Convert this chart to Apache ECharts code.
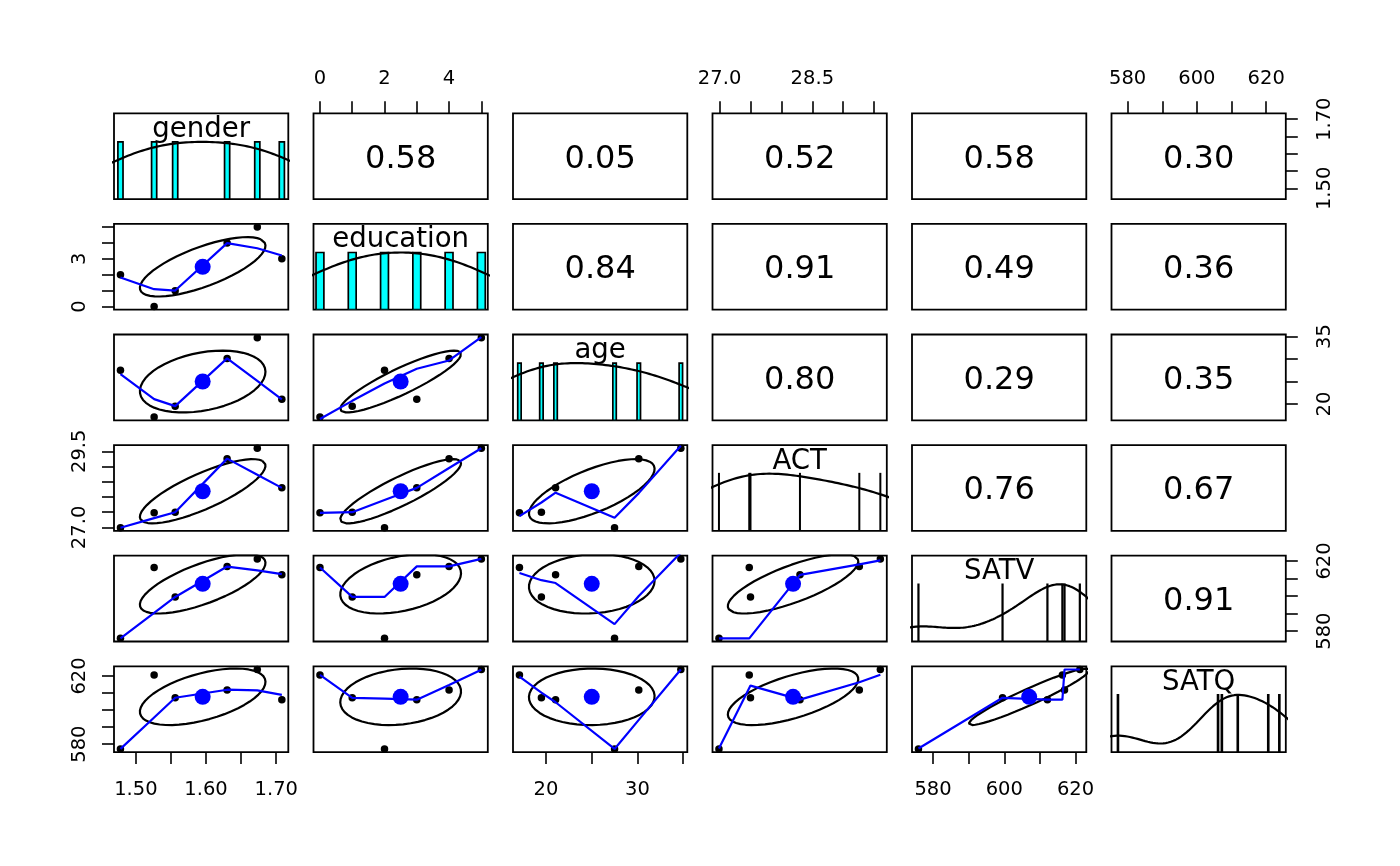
<!DOCTYPE html>
<html><head><meta charset="utf-8">
<script src="https://cdn.jsdelivr.net/npm/echarts@6/dist/echarts.min.js"></script>
<style>html,body{margin:0;padding:0;background:#fff}#chart{width:1400px;height:866px}</style>
</head><body><div id="chart"></div>
<script>
// ---- data (group means by education level 0..5) ----
const varNames = ['gender', 'education', 'age', 'ACT', 'SATV', 'SATQ'];
const gender    = [1.526, 1.556, 1.478, 1.708, 1.630, 1.673];
const education = [0, 1, 2, 3, 4, 5];
const age       = [17.1, 19.5, 27.5, 21.05, 30.15, 34.75];
const ACT       = [27.48, 27.50, 26.99, 28.30, 29.26, 29.60];
const SATV      = [616.3, 599.5, 575.9, 612.1, 616.9, 621.2];
const SATQ      = [620.6, 607.2, 577.2, 606.1, 611.8, 623.8];
// correlations shown in the upper panels (row by row)
const corrUpper = [0.58, 0.05, 0.52, 0.58, 0.30, 0.84, 0.91, 0.49, 0.36, 0.80, 0.29, 0.35, 0.76, 0.67, 0.91];
// tick values and tick labels
const ticksGender = [1.50, 1.55, 1.60, 1.65, 1.70];
const labelsGenderBottom = [1.50, 1.60, 1.70];
const labelsGenderRight = [1.50, 1.70];
const ticksEducation = [0, 1, 2, 3, 4, 5];
const labelsEducationTop = [0, 2, 4];
const labelsEducationLeft = [0, 3];
const ticksAge = [20, 25, 30, 35];
const labelsAgeBottom = [20, 30];
const labelsAgeRight = [20, 35];
const ticksACT = [27.0, 27.5, 28.0, 28.5, 29.0, 29.5];
const labelsACTTop = [27.0, 28.5];
const labelsACTLeft = [27.0, 29.5];
const ticksSATV = [580, 590, 600, 610, 620];
const labelsSATVBottom = [580, 600, 620];
const labelsSATVRight = [580, 620];
const ticksSATQ = [580, 590, 600, 610, 620];
const labelsSATQTop = [580, 600, 620];
const labelsSATQLeft = [580, 620];

const vars = [gender, education, age, ACT, SATV, SATQ];
const decimals = [2, 0, 0, 1, 0, 0];
const ticks = [ticksGender, ticksEducation, ticksAge, ticksACT, ticksSATV, ticksSATQ];
const xOuterLabels = [labelsGenderBottom, labelsEducationTop, labelsAgeBottom, labelsACTTop, labelsSATVBottom, labelsSATQTop];
const yOuterLabels = [labelsGenderRight, labelsEducationLeft, labelsAgeRight, labelsACTLeft, labelsSATVRight, labelsSATQLeft];

// ---- layout ----
const L0 = 114, CS = 199.5, PW = 174.3, T0 = 113.3, RS = 110.6, PH = 85.8;
const FONT = 'DejaVu Sans';

// ---- helpers ----
function ext(v) { const mn = Math.min(...v), mx = Math.max(...v), r = mx - mn; return [mn - 0.04 * r, mx + 0.04 * r]; }
function mean(v) { return v.reduce((a, b) => a + b, 0) / v.length; }
function sd(v) { const m = mean(v); return Math.sqrt(v.reduce((a, b) => a + (b - m) * (b - m), 0) / (v.length - 1)); }
function cor(x, y) { const mx = mean(x), my = mean(y); let sxy = 0, sxx = 0, syy = 0;
  for (let i = 0; i < x.length; i++) { sxy += (x[i] - mx) * (y[i] - my); sxx += (x[i] - mx) ** 2; syy += (y[i] - my) ** 2; }
  return sxy / Math.sqrt(sxx * syy); }
function q7(s, p) { const h = (s.length - 1) * p, lo = Math.floor(h), hi = Math.min(lo + 1, s.length - 1); return s[lo] + (h - lo) * (s[hi] - s[lo]); }
function densityCurve(v) {
  const n = v.length, s = [...v].sort((a, b) => a - b);
  const iqr = q7(s, 0.75) - q7(s, 0.25);
  const bw = 1.06 * Math.min(sd(v), iqr / 1.34) * Math.pow(n, -0.2) * 1.2;
  const from = s[0] - 3 * bw, to = s[n - 1] + 3 * bw, N = 512;
  const pts = [];
  for (let k = 0; k < N; k++) {
    const xx = from + (to - from) * k / (N - 1);
    let d = 0; for (const xi of v) { const z = (xx - xi) / bw; d += Math.exp(-0.5 * z * z); }
    pts.push([xx, d]);
  }
  const mx = Math.max(...pts.map(p => p[1]));
  return pts.map(p => [p[0], p[1] / mx]);
}
function lowess(xIn, yIn, f = 2 / 3, nsteps = 3) {
  const n = xIn.length;
  const idx = xIn.map((v, i) => i).sort((a, b) => xIn[a] - xIn[b]);
  const x = idx.map(i => xIn[i]), y = idx.map(i => yIn[i]);
  const delta = 0.01 * (x[n - 1] - x[0]);
  const ys = new Array(n).fill(0), rw = new Array(n).fill(1), res = new Array(n).fill(0);
  const ns = Math.max(2, Math.min(n, Math.floor(f * n + 1e-7)));
  const range = x[n - 1] - x[0];
  function lowest(xs, nleft, nright, userw) {
    const h = Math.max(xs - x[nleft], x[nright] - xs), h9 = 0.999 * h, h1 = 0.001 * h;
    const w = new Array(n).fill(0);
    let a = 0, j = nleft;
    while (j < n) {
      w[j] = 0;
      const r = Math.abs(x[j] - xs);
      if (r <= h9) {
        if (r <= h1) w[j] = 1; else { const q = r / h; const t = 1 - q * q * q; w[j] = t * t * t; }
        if (userw) w[j] *= rw[j];
        a += w[j];
      } else if (x[j] > xs) break;
      j++;
    }
    const nrt = j - 1;
    if (a <= 0) return null;
    for (let k = nleft; k <= nrt; k++) w[k] /= a;
    if (h > 0) {
      let aa = 0; for (let k = nleft; k <= nrt; k++) aa += w[k] * x[k];
      let b = xs - aa, c = 0;
      for (let k = nleft; k <= nrt; k++) c += w[k] * (x[k] - aa) * (x[k] - aa);
      if (Math.sqrt(c) > 0.001 * range) { b /= c; for (let k = nleft; k <= nrt; k++) w[k] *= (b * (x[k] - aa) + 1); }
    }
    let yv = 0; for (let k = nleft; k <= nrt; k++) yv += w[k] * y[k];
    return yv;
  }
  let iter = 1;
  while (iter <= nsteps + 1) {
    let nleft = 0, nright = ns - 1, last = -1, i = 0;
    for (;;) {
      if (nright < n - 1) {
        const d1 = x[i] - x[nleft], d2 = x[nright + 1] - x[i];
        if (d1 > d2) { nleft++; nright++; continue; }
      }
      const v = lowest(x[i], nleft, nright, iter > 1);
      ys[i] = (v === null) ? y[i] : v;
      if (last < i - 1) {
        const denom = x[i] - x[last];
        for (let j = last + 1; j < i; j++) { const al = (x[j] - x[last]) / denom; ys[j] = al * ys[i] + (1 - al) * ys[last]; }
      }
      last = i;
      const cut = x[last] + delta;
      for (i = last + 1; i < n; i++) {
        if (x[i] > cut) break;
        if (x[i] === x[last]) { ys[i] = ys[last]; last = i; }
      }
      i = Math.max(last + 1, i - 1);
      if (last >= n - 1) break;
    }
    for (let k = 0; k < n; k++) res[k] = y[k] - ys[k];
    let sc = 0; for (let k = 0; k < n; k++) sc += Math.abs(res[k]); sc /= n;
    if (iter > nsteps) break;
    const ar = res.map(Math.abs).sort((a, b) => a - b);
    const m1 = Math.floor(n / 2);
    let cmad;
    if (n % 2 === 0) { const m2 = n - m1 - 1; cmad = 3 * (ar[m1] + ar[m2]); } else cmad = 6 * ar[m1];
    if (cmad < 1e-7 * sc) break;
    const c9 = 0.999 * cmad, c1 = 0.001 * cmad;
    for (let k = 0; k < n; k++) {
      const r = Math.abs(res[k]);
      rw[k] = r <= c1 ? 1 : (r <= c9 ? Math.pow(1 - (r / cmad) ** 2, 2) : 0);
    }
    iter++;
  }
  return x.map((v, k) => [v, ys[k]]);
}
function ellipse(x, y) {
  const xm = mean(x), ym = mean(y), xs = sd(x), ysd = sd(y), r = cor(x, y);
  const th = (Math.abs(r) > 0 ? Math.sign(r) : 1) / Math.sqrt(2);
  const a = Math.sqrt(1 + r), b = Math.sqrt(1 - r), seg = 51, out = [];
  for (let k = 0; k <= seg; k++) {
    const ang = k * 2 * Math.PI / seg, c = Math.cos(ang), s = Math.sin(ang);
    out.push([(c * a * th - s * b * th) * xs + xm, (c * a * th + s * b * th) * ysd + ym]);
  }
  return out;
}

// ---- build option ----
const grids = [], xAxes = [], yAxes = [], series = [];
let corrIdx = 0;
function axisCfg(isY, k, rng, show, pos, tk, lab, dec, margin) {
  return {
    type: 'value', gridIndex: k, min: rng[0], max: rng[1], position: pos,
    axisLine: { show: false }, splitLine: { show: false },
    axisTick: { show: show, length: 12, inside: false, lineStyle: { color: '#000', width: 1.6 }, customValues: tk },
    axisLabel: { show: show, customValues: lab, formatter: v => Number(v).toFixed(dec), color: '#000',
      fontFamily: FONT, fontSize: 19.5, margin: margin, rotate: isY ? 90 : 0 }
  };
}
const clearItem = { color: 'rgba(0,0,0,0)', borderWidth: 0, opacity: 1 };
for (let i = 0; i < 6; i++) {
  for (let j = 0; j < 6; j++) {
    const k = grids.length;
    grids.push({ left: L0 + j * CS, top: T0 + i * RS, width: PW, height: PH, show: true,
      borderColor: '#000', borderWidth: 1.8, backgroundColor: 'transparent' });
    const xr = ext(vars[j]);
    const yr = (i === j) ? [0, 1.5] : ext(vars[i]);
    const xBottom = (j % 2 === 0);
    const xShow = xBottom ? (i === 5) : (i === 0);
    xAxes.push(axisCfg(false, k, xr, xShow, xBottom ? 'bottom' : 'top', ticks[j], xOuterLabels[j], decimals[j], xBottom ? 28 : 24));
    const yLeft = (i % 2 === 1);
    const yShow = (i !== j) && (yLeft ? (j === 0) : (j === 5));
    yAxes.push(axisCfg(true, k, yr, yShow, yLeft ? 'left' : 'right', i === j ? [] : ticks[i], i === j ? [] : yOuterLabels[i], decimals[i], yLeft ? 24 : 29));

    if (i === j) {
      const v = vars[i];
      const uniq = [...new Set(v)].sort((a, b) => a - b);
      const counts = uniq.map(u => v.filter(z => z === u).length);
      const mc = Math.max(...counts);
      let md = Infinity; for (let q = 1; q < uniq.length; q++) md = Math.min(md, uniq[q] - uniq[q - 1]);
      const ib = md * (uniq.length - 1) / 41;
      series.push({ type: 'custom', xAxisIndex: k, yAxisIndex: k, silent: true, clip: true,
        data: uniq.map((u, q) => [u, counts[q] / mc]),
        renderItem: (params, api) => {
          const xv = api.value(0), hv = api.value(1);
          const p1 = api.coord([xv - ib, hv]), p2 = api.coord([xv + ib, 0]);
          return { type: 'rect', shape: { x: p1[0], y: p1[1], width: p2[0] - p1[0], height: p2[1] - p1[1] },
            style: { fill: '#00FFFF', stroke: '#000', lineWidth: 1.7 } };
        } });
      series.push({ type: 'line', xAxisIndex: k, yAxisIndex: k, silent: true, clip: true, symbol: 'none',
        data: densityCurve(v), lineStyle: { color: '#000', width: 2.2 }, z: 3 });
      series.push({ type: 'scatter', xAxisIndex: k, yAxisIndex: k, silent: true, symbolSize: 0,
        itemStyle: clearItem, data: [[(xr[0] + xr[1]) / 2, 1.25]], z: 5,
        label: { show: true, position: 'inside', offset: [0, 2], formatter: varNames[i], color: '#000', opacity: 1,
          textBorderWidth: 0, fontFamily: FONT, fontSize: 27.6 } });
    } else if (i > j) {
      const xv = vars[j], yv = vars[i];
      series.push({ type: 'scatter', xAxisIndex: k, yAxisIndex: k, silent: true, symbolSize: 7.5,
        itemStyle: { color: '#000', opacity: 1 }, data: xv.map((x, q) => [x, yv[q]]), z: 2 });
      series.push({ type: 'line', xAxisIndex: k, yAxisIndex: k, silent: true, clip: true, symbol: 'none',
        data: ellipse(xv, yv), lineStyle: { color: '#000', width: 2.2 }, z: 3 });
      series.push({ type: 'line', xAxisIndex: k, yAxisIndex: k, silent: true, clip: true, symbol: 'none',
        data: lowess(xv, yv), lineStyle: { color: '#0000FF', width: 2.2 }, z: 4 });
      series.push({ type: 'scatter', xAxisIndex: k, yAxisIndex: k, silent: true, symbolSize: 16,
        itemStyle: { color: '#0000FF', opacity: 1 }, data: [[mean(xv), mean(yv)]], z: 5 });
    } else {
      const r = corrUpper[corrIdx++];
      series.push({ type: 'scatter', xAxisIndex: k, yAxisIndex: k, silent: true, symbolSize: 0,
        itemStyle: clearItem, data: [[(xr[0] + xr[1]) / 2, (yr[0] + yr[1]) / 2]],
        label: { show: true, position: 'inside', offset: [0, 3], formatter: r.toFixed(2), color: '#000', opacity: 1,
          textBorderWidth: 0, fontFamily: FONT, fontSize: 32 } });
    }
  }
}
const chart = echarts.init(document.getElementById('chart'), null, { renderer: 'canvas' });
chart.setOption({ animation: false, backgroundColor: '#fff', grid: grids, xAxis: xAxes, yAxis: yAxes, series: series });
</script></body></html>
